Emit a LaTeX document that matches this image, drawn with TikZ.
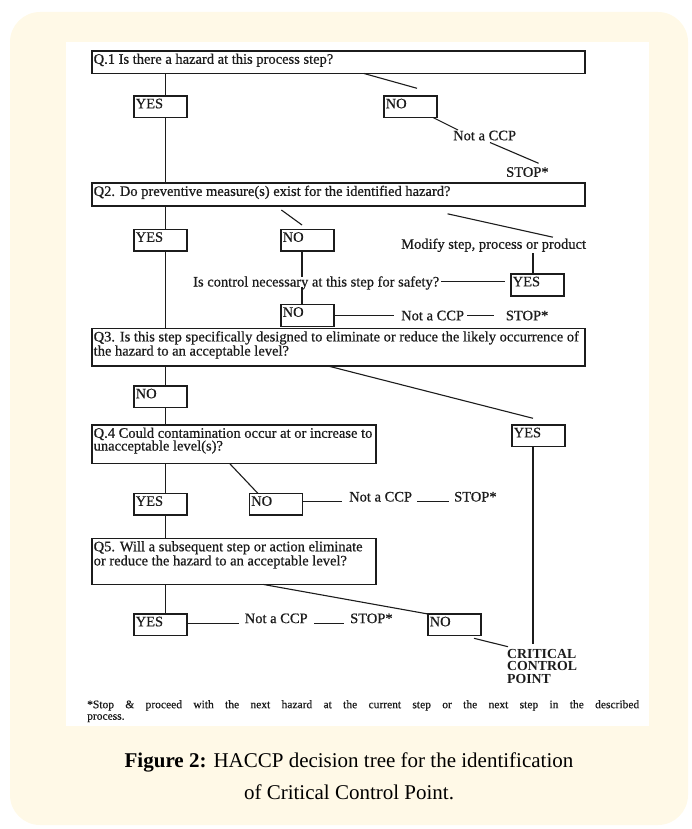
\documentclass[tikz,border=0pt]{standalone}
\usepackage{fontspec}
\setmainfont{Liberation Serif}
\newfontfamily\scanfont[FakeBold=0.6]{Liberation Serif}
\definecolor{inkc}{RGB}{28,28,28}
\definecolor{cream}{RGB}{255,249,231}
\begin{document}
\begin{tikzpicture}[x=1pt,y=-1pt,
  box/.style={draw=inkc, line width=1.2pt, inner sep=0pt, outer sep=0pt, anchor=north west, minimum height=21.5pt},
  ynbox/.style={box, minimum width=53pt},
  qbox/.style={box, minimum width=493pt},
  sbox/.style={box, minimum width=284pt},
  blbl/.style={anchor=north west, align=left, inner sep=0pt, xshift=1.5pt, yshift=-2.5pt, text=inkc, font=\scanfont\fontsize{14.5}{12.8}\selectfont},
  tx/.style={anchor=west, inner sep=0pt, text=inkc, font=\scanfont\fontsize{14.5}{12.8}\selectfont, text height=9.6pt, text depth=0pt},
  conn/.style={draw=inkc, line width=1.1pt},
]
\useasboundingbox (0,0) rectangle (692,829);
\fill[cream, rounded corners=30pt] (10,12) rectangle (688,825);
\fill[white] (66,42) rectangle (649,726);

% boxes
\node[qbox, minimum height=22.5pt, label={[blbl]north west:{Q.1 Is there a hazard at this process step?}}] (q1) at (92,51) {};
\node[ynbox, label={[blbl]north west:{YES}}] (yes1) at (134,96) {};
\node[ynbox, label={[blbl]north west:{NO}}] (no1) at (384,96) {};
\node[tx] (nc1) at (453,135.5) {Not a CCP};
\node[tx] (stop1) at (506,172) {STOP*};

\node[qbox, minimum height=23pt, label={[blbl]north west:{Q2. Do preventive measure(s) exist for the identified hazard?}}] (q2) at (92,183) {};
\node[ynbox, label={[blbl]north west:{YES}}] (yes2) at (134,229.5) {};
\node[ynbox, label={[blbl]north west:{NO}}] (no2) at (281,229.5) {};
\node[tx] (modify) at (401,244) {Modify step, process or product};
\node[ynbox, minimum height=22pt, label={[blbl]north west:{YES}}] (yes3) at (511,274) {};
\node[tx] (ctrl) at (193,281.7) {Is control necessary at this step for safety?};
\node[ynbox, minimum height=22pt, label={[blbl]north west:{NO}}] (no3) at (281,304.5) {};
\node[tx] (nc2) at (401,315.5) {Not a CCP};
\node[tx] (stop2) at (505.7,315.5) {STOP*};

\node[qbox, minimum height=37.5pt, label={[blbl]north west:{Q3. Is this step specifically designed to eliminate or reduce the likely occurrence of\\the hazard to an acceptable level?}}] (q3) at (92,328.5) {};
\node[ynbox, label={[blbl]north west:{NO}}] (no4) at (134,386) {};
\node[sbox, minimum height=38.5pt, label={[blbl]north west:{Q.4 Could contamination occur at or increase to\\unacceptable level(s)?}}] (q4) at (92,425) {};
\node[ynbox, label={[blbl]north west:{YES}}] (yes5) at (512,425) {};
\node[ynbox, label={[blbl]north west:{YES}}] (yes6) at (134,493.5) {};
\node[ynbox, label={[blbl]north west:{NO}}] (no6) at (249.5,493.5) {};
\node[tx] (nc3) at (349,496.7) {Not a CCP};
\node[tx] (stop3) at (454,496.7) {STOP*};

\node[sbox, minimum height=46pt, label={[blbl]north west:{Q5. Will a subsequent step or action eliminate\\or reduce the hazard to an acceptable level?}}] (q5) at (92,538.5) {};
\node[ynbox, label={[blbl]north west:{YES}}] (yes7) at (134,614) {};
\node[ynbox, label={[blbl]north west:{NO}}] (no7) at (428,614) {};
\node[tx] (nc4) at (244.6,618.3) {Not a CCP};
\node[tx] (stop4) at (350,618.3) {STOP*};
\node[anchor=north west, inner sep=0pt, align=left, text=inkc, font=\bfseries\fontsize{13.8}{12.6}\selectfont] (ccp) at (507,649) {CRITICAL\\CONTROL\\POINT};

% footnote
\node[anchor=north west, inner sep=0pt, align=left, text=inkc, font=\scanfont\fontsize{11.5}{11.5}\selectfont] (foot) at (87,700) {\makebox[552pt][s]{*Stop \& proceed with the next hazard at the current step or the next step in the described}\\process.};

% caption
\node[anchor=base, inner sep=0pt, font=\fontsize{21}{21}\selectfont] (cap1) at (349,767) {\textbf{Figure 2:} HACCP decision tree for the identification};
\node[anchor=base, inner sep=0pt, font=\fontsize{21}{21}\selectfont] (cap2) at (349,799) {of Critical Control Point.};

% trunk coordinates
\coordinate (ta) at (165.5,0);
\coordinate (tb) at (302,0);
\coordinate (tc) at (533,0);

% main trunk
\draw[conn] (ta |- q1.south) -- (ta |- yes1.north);
\draw[conn] (ta |- yes1.south) -- (ta |- q2.north);
\draw[conn] (ta |- q2.south) -- (ta |- yes2.north);
\draw[conn] (ta |- yes2.south) -- (ta |- q3.north);
\draw[conn] (ta |- q3.south) -- (ta |- no4.north);
\draw[conn] (ta |- no4.south) -- (ta |- q4.north);
\draw[conn] (ta |- q4.south) -- (ta |- yes6.north);
\draw[conn] (ta |- yes6.south) -- (ta |- q5.north);
\draw[conn] (ta |- q5.south) -- (ta |- yes7.north);

% Q1 no branch
\coordinate (b1) at (364,0);
\coordinate (e1) at (417,88.3);
\draw[conn] (b1 |- q1.south) -- (e1);
\coordinate (b2) at (433,0);
\coordinate (e2) at (458,130);
\draw[conn] (b2 |- no1.south) -- (e2);
\coordinate (b3) at (490,142.5);
\coordinate (e3) at (538.6,163.3);
\draw[conn] (b3) -- (e3);

% Q2 branches
\coordinate (b4) at (281.4,210);
\coordinate (e4) at (302,225);
\draw[conn] (b4) -- (e4);
\coordinate (b5) at (447.5,213.8);
\coordinate (e5) at (552.9,237.2);
\draw[conn] (b5) -- (e5);
\draw[conn] (tc |- yes3.north) -- ([yshift=-4pt]tc |- modify.south);
\draw[conn] (tb |- no2.south) -- (tb |- ctrl.north);
\draw[conn] (tb |- ctrl.south) -- (tb |- no3.north);
\draw[conn, shorten <=2pt, shorten >=6pt] (ctrl.east) -- (ctrl.east -| yes3.west);
\draw[conn, shorten >=7pt] (no3.east) -- (no3.east -| nc2.west);
\draw[conn, shorten <=3pt, shorten >=12pt] (nc2.east) -- (stop2.west);

% Q3 branches
\coordinate (b6) at (328,0);
\coordinate (e6) at (533,418.3);
\draw[conn] (b6 |- q3.south) -- (e6);
\draw[conn, shorten >=5.5pt] (tc |- yes5.south) -- (tc |- ccp.north);

% Q4 branches
\coordinate (b7) at (229.6,0);
\coordinate (e7) at (258,0);
\draw[conn] (b7 |- q4.south) -- (e7 |- no6.north);
\draw[conn, shorten >=7pt] (no6.east |- nc3.south) -- (nc3.south west);
\draw[conn, shorten <=5pt, shorten >=5.4pt] (nc3.south east) -- (stop3.south west);

% Q5 branches
\coordinate (b8) at (263.6,0);
\draw[conn] (b8 |- q5.south) -- (no7.north west);
\draw[conn, shorten >=6pt] (yes7.east |- nc4.south) -- (nc4.south west);
\draw[conn, shorten <=6.6pt, shorten >=6pt] (nc4.south east) -- (stop4.south west);
\coordinate (b9) at (474,638.3);
\coordinate (e9) at (508,646.7);
\draw[conn] (b9) -- (e9);
\end{tikzpicture}
\end{document}
